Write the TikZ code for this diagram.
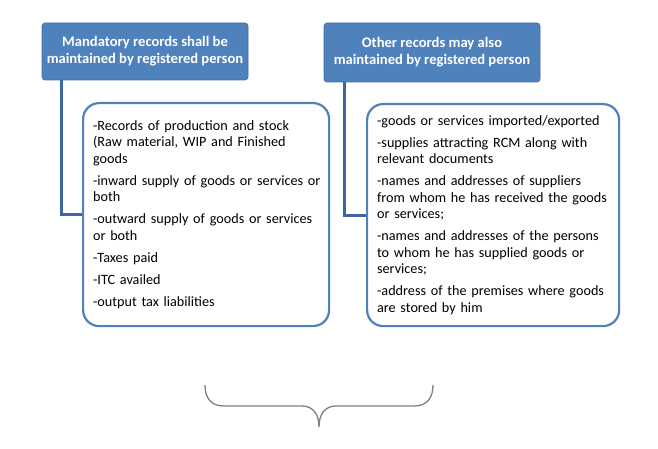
\documentclass[tikz,border=0pt]{standalone}
\usepackage{fontspec}
\setmainfont{Carlito}
\definecolor{hdrblue}{HTML}{4F81BD}
\definecolor{linkblue}{HTML}{3B66A0}
\definecolor{bracegray}{HTML}{7F7F7F}
\newcommand{\oneline}[1]{\mbox{#1}}
\begin{document}
\begin{tikzpicture}[x=1pt,y=-1pt,
  hdr/.style={draw=hdrblue!85!black, line width=0.6pt, fill=hdrblue, rounded corners=3pt, text=white,
    font=\fontsize{14.6}{17}\selectfont\bfseries, align=center, inner sep=0pt},
  listbox/.style={draw=hdrblue, line width=2.2pt, fill=white, rounded corners=16pt,
    font=\fontsize{14.2}{16.5}\selectfont, align=left, inner xsep=10pt, inner ysep=0pt, anchor=north west},
  link/.style={draw=linkblue, line width=2.8pt}]
\useasboundingbox (0,0) rectangle (658,449);
\node[hdr, minimum width=206pt, minimum height=57pt] (h1) at (145,51.5)
  {Mandatory records shall be\\maintained by registered person};
\node[hdr, minimum width=216pt, minimum height=59pt] (h2) at (432,52.5)
  {Other records may also\\maintained by registered person};
\node[listbox, minimum width=246pt, minimum height=223pt, text width=226pt] (b1) at (82,102)
  {\oneline{-Records of production and stock}\\\oneline{(Raw material, WIP and Finished}\\goods\\[5.5pt]
   \oneline{-inward supply of goods or services or}\\both\\[5.5pt]
   \oneline{-outward supply of goods or services}\\or both\\[5.5pt]
   -Taxes paid\\[5.5pt]
   -ITC availed\\[5.5pt]
   \oneline{-output tax liabilities}};
\node[listbox, minimum width=252pt, minimum height=222pt, text width=232pt] (b2) at (366,103)
  {\oneline{-goods or services imported/exported}\\[5.5pt]
   \oneline{-supplies attracting RCM along with}\\\oneline{relevant documents}\\[5.5pt]
   \oneline{-names and addresses of suppliers}\\\oneline{from whom he has received the goods}\\\oneline{or services;}\\[5.5pt]
   \oneline{-names and addresses of the persons}\\\oneline{to whom he has supplied goods or}\\services;\\[5.5pt]
   \oneline{-address of the premises where goods}\\\oneline{are stored by him}};
\coordinate (s1) at ([xshift=20pt]h1.south west);
\coordinate (s2) at ([xshift=21pt]h2.south west);
\draw[link] (s1) |- (b1.west);
\draw[link] (s2) |- (b2.west);
\coordinate (bl) at (205,385);
\coordinate (br) at (433,385);
\coordinate (tip) at (319,427);
\draw[bracegray, line width=1.3pt]
  (bl) .. controls (205,398) and (211,406) .. (224,406) -- (302,406)
  .. controls (312,406) and (319,413) .. (tip)
  .. controls (319,413) and (326,406) .. (336,406) -- (414,406)
  .. controls (427,406) and (433,398) .. (br);
\end{tikzpicture}
\end{document}
